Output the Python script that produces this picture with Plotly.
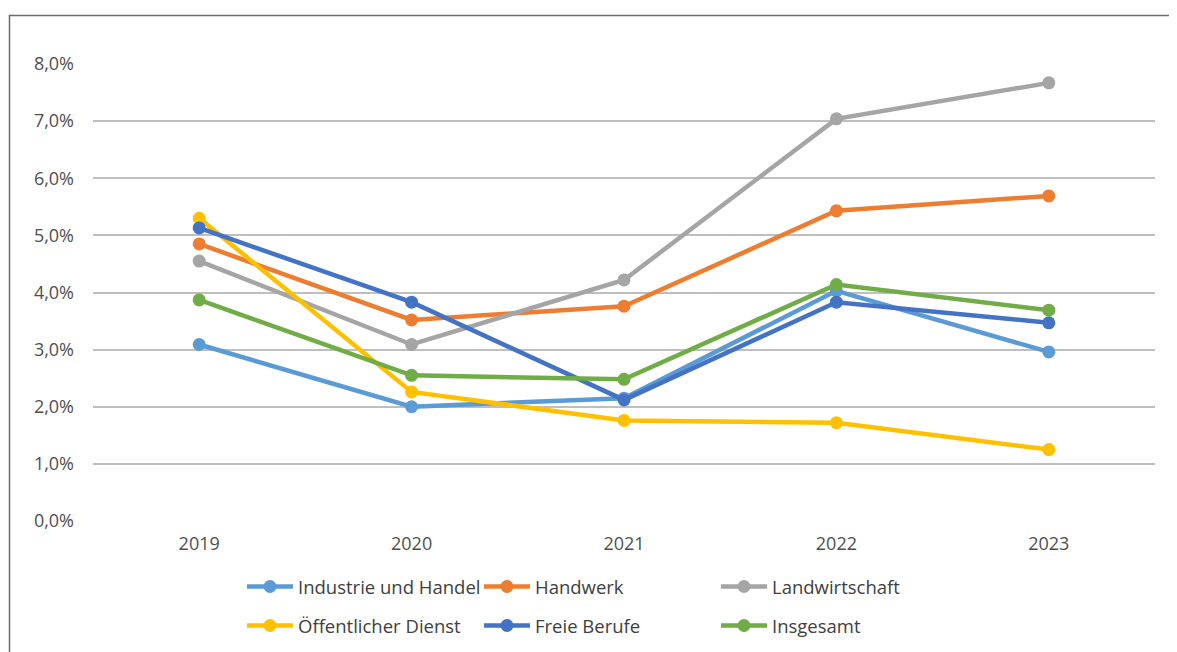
import plotly.graph_objects as go

years = ["2019", "2020", "2021", "2022", "2023"]

industrie_handel = [3.09, 2.00, 2.15, 4.03, 2.96]
handwerk = [4.85, 3.52, 3.76, 5.43, 5.69]
landwirtschaft = [4.55, 3.09, 4.22, 7.04, 7.67]
oeffentlicher_dienst = [5.30, 2.26, 1.76, 1.72, 1.25]
freie_berufe = [5.13, 3.83, 2.12, 3.83, 3.47]
insgesamt = [3.87, 2.55, 2.48, 4.14, 3.69]

series_names = ["Industrie und Handel", "Handwerk", "Landwirtschaft",
                "Öffentlicher Dienst", "Freie Berufe", "Insgesamt"]
series_values = [industrie_handel, handwerk, landwirtschaft,
                 oeffentlicher_dienst, freie_berufe, insgesamt]
colors = ["#5B9BD5", "#ED7D31", "#A5A5A5", "#FFC000", "#4472C4", "#70AD47"]

y_ticks = [0, 1, 2, 3, 4, 5, 6, 7, 8]
y_ticklabels = ["0,0%", "1,0%", "2,0%", "3,0%", "4,0%", "5,0%", "6,0%", "7,0%", "8,0%"]

FONT = "Open Sans"
OFF = 8  # page body margin

fig = go.Figure()
for i, (name, vals, col) in enumerate(zip(series_names, series_values, colors)):
    fig.add_trace(go.Scatter(
        x=years, y=vals, name=name, mode="lines+markers",
        line=dict(color=col, width=4.5),
        marker=dict(color=col, size=13),
        legend="legend" if i < 3 else "legend2",
    ))

W, H = 1177 - OFF, 652 - OFF
L, T = 93 - OFF, 64 - OFF
R = W - (1155 - OFF)
B = H - (521 - OFF)
pw, ph = W - L - R, H - T - B

def sx(px):
    """screen x (reference) -> paper x"""
    return (px - OFF - L) / pw

def sy(py):
    """screen y (reference) -> paper y"""
    return (H - B - (py - OFF)) / ph

legend_common = dict(
    orientation="h", xref="paper", yref="paper",
    xanchor="left", yanchor="middle",
    font=dict(family=FONT, size=18.5, color="#404040"),
    itemwidth=46,
    entrywidth=176, entrywidthmode="pixels",
    bgcolor="rgba(0,0,0,0)", itemclick=False, itemdoubleclick=False,
)

fig.update_layout(
    width=W, height=H,
    margin=dict(l=L, r=R, t=T, b=B, autoexpand=False),
    paper_bgcolor="white", plot_bgcolor="white",
    font=dict(family=FONT, size=18, color="#595959"),
    showlegend=True,
    legend=dict(x=sx(242), y=sy(587), **legend_common),
    legend2=dict(x=sx(242), y=sy(626), **legend_common),
    xaxis=dict(
        type="category", range=[-0.5, 4.5], showgrid=False, zeroline=False,
        showline=False, ticks="", tickfont=dict(family=FONT, size=18, color="#4F4F4F"),
        ticklabelstandoff=10,
    ),
    yaxis=dict(
        range=[0, 8], tickvals=y_ticks, ticktext=y_ticklabels,
        showgrid=True, gridcolor="#BFBFBF", gridwidth=1.5, zeroline=False,
        showline=False, ticks="", tickfont=dict(family=FONT, size=18, color="#4F4F4F"),
        ticklabelstandoff=18,
    ),
    shapes=[dict(
        type="rect", xref="paper", yref="paper",
        x0=sx(9.5), x1=sx(1220),
        y0=sy(700), y1=sy(15.5),
        line=dict(color="#6B6B6B", width=1.5), fillcolor="rgba(0,0,0,0)",
        layer="below",
    )],
)

fig.write_html("out.html")
